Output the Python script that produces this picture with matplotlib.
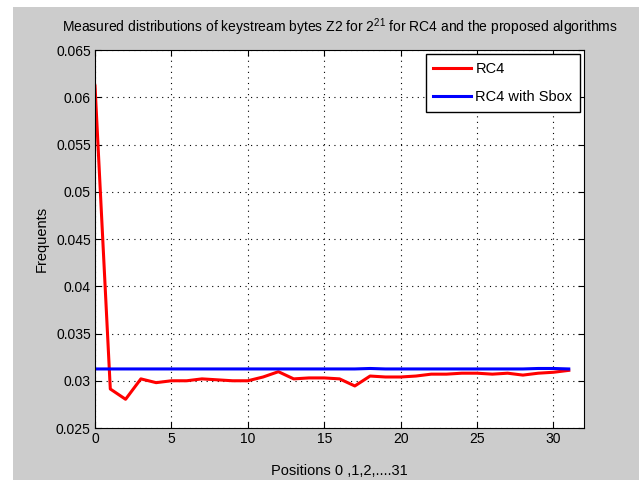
import matplotlib
matplotlib.use("Agg")
import matplotlib.pyplot as plt
from matplotlib.patches import Rectangle

positions = list(range(32))
rc4 = [0.0612, 0.02913, 0.02804, 0.0302, 0.0298, 0.0300, 0.0300, 0.0302,
       0.0301, 0.0300, 0.0300, 0.0304, 0.03096, 0.0302, 0.0303, 0.0303,
       0.0302, 0.02945, 0.0305, 0.0304, 0.0304, 0.0305, 0.0307, 0.0307,
       0.0308, 0.0308, 0.0307, 0.0308, 0.0306, 0.0308, 0.0309, 0.0311]
rc4_sbox = [0.03125, 0.03125, 0.03125, 0.03125, 0.03125, 0.03125, 0.03125, 0.03125,
            0.03125, 0.03125, 0.03125, 0.03125, 0.03125, 0.03125, 0.03125, 0.03125,
            0.03125, 0.03125, 0.0313, 0.03125, 0.03125, 0.03125, 0.03125, 0.03125,
            0.03125, 0.03125, 0.03125, 0.03125, 0.03125, 0.0313, 0.0313, 0.03125]

plt.rcParams['font.family'] = ['Liberation Sans', 'DejaVu Sans']
plt.rcParams['mathtext.fontset'] = 'custom'
plt.rcParams['mathtext.rm'] = 'Liberation Sans'

fig = plt.figure(figsize=(6.39, 4.8), dpi=100, facecolor='white')
# grey matlab-style frame
fig.patches.append(Rectangle((0.0203, 0), 1, 0.9854, transform=fig.transFigure,
                             facecolor='#cccccc', edgecolor='none', zorder=-1))
ax = fig.add_axes([0.1487, 0.1083, 0.7653, 0.7875])

ax.plot(positions, rc4, color='red', lw=2.2, label='RC4')
ax.plot(positions, rc4_sbox, color='blue', lw=2.2, label='RC4 with Sbox')

ax.set_xlim(0, 32)
ax.set_ylim(0.025, 0.065)
ax.set_xticks([0, 5, 10, 15, 20, 25, 30])
ax.set_yticks([0.025, 0.03, 0.035, 0.04, 0.045, 0.05, 0.055, 0.06, 0.065])
ax.set_yticklabels(['0.025', '0.03', '0.035', '0.04', '0.045', '0.05', '0.055', '0.06', '0.065'])
ax.tick_params(direction='in', top=True, right=True, labelsize=10, length=4, pad=3)
ax.grid(True, color='black', linestyle=(0, (1, 4)), lw=0.8)

ax.set_title('Measured distributions of keystream bytes Z2 for 2$^{21}$ for RC4 and the proposed algorithms',
             fontsize=10, pad=13)
ax.set_xlabel('Positions 0 ,1,2,....31', fontsize=10.5, labelpad=13)
ax.set_ylabel('Frequents', fontsize=10.5, labelpad=5)

leg = ax.legend(loc='upper right', fontsize=10.5, fancybox=False, framealpha=1,
                edgecolor='black', handlelength=2.6, handletextpad=0.3,
                labelspacing=1.0, borderaxespad=0.3, borderpad=0.5)
leg.get_frame().set_linewidth(1)

plt.savefig('out.png', dpi=100)
